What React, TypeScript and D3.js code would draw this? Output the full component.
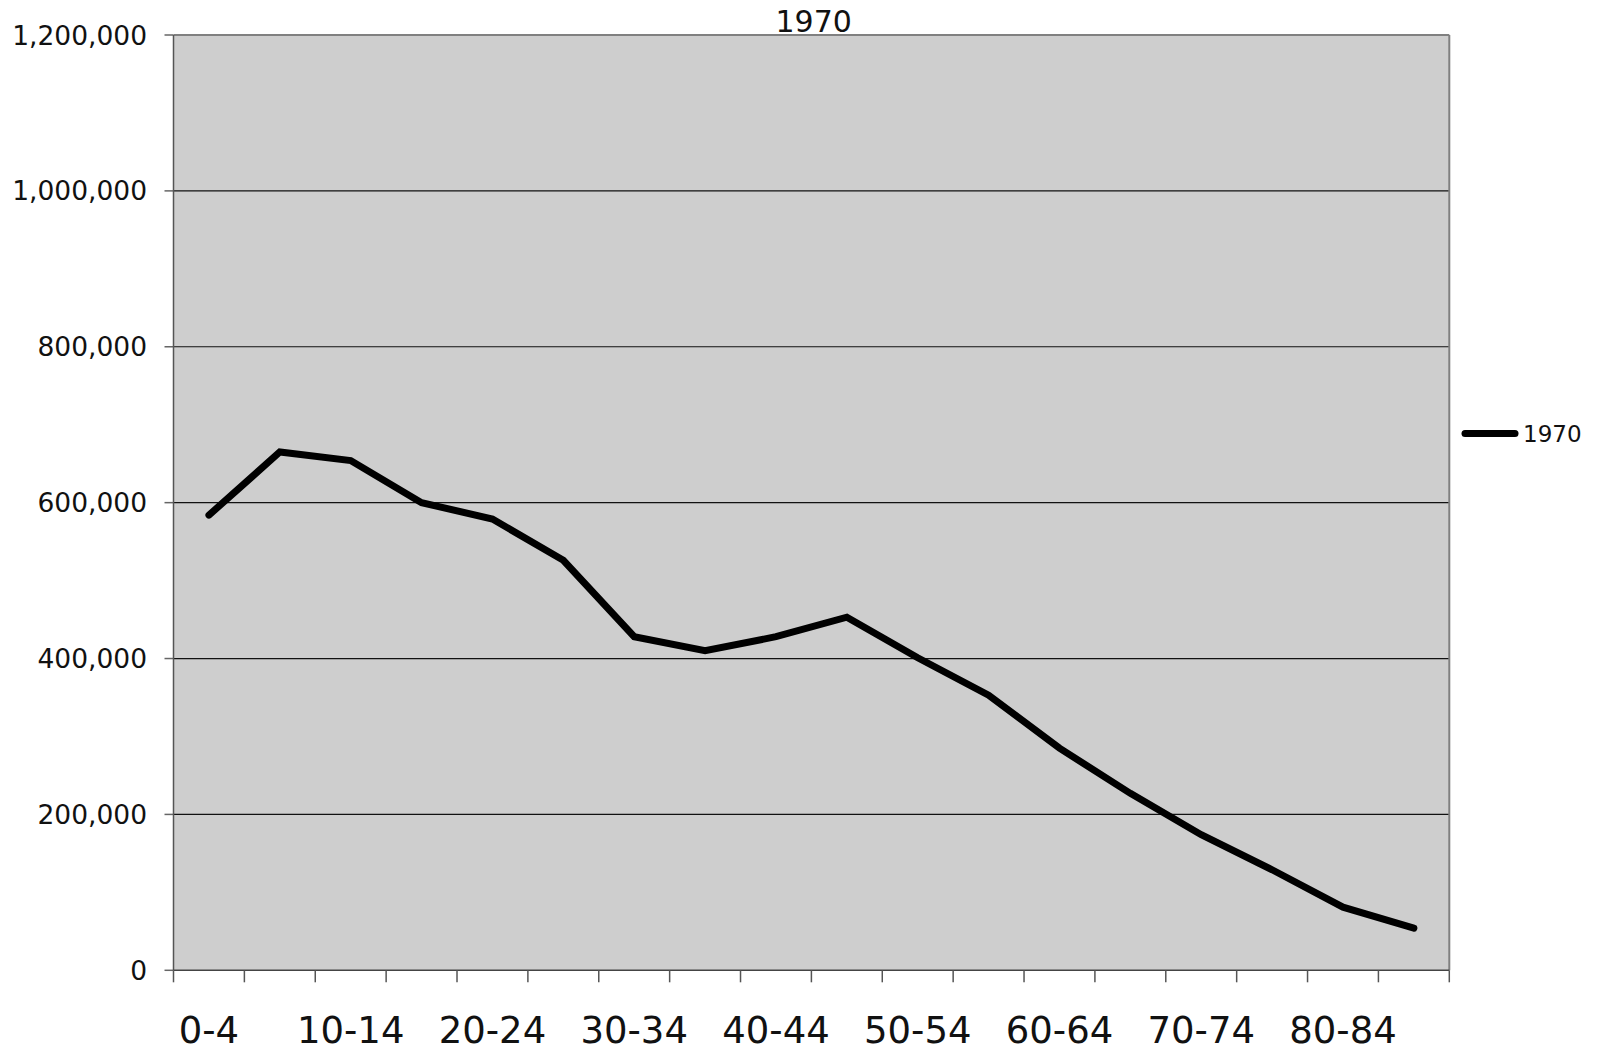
import React from "react";
import * as d3 from "d3";

const categories = ["0-4","5-9","10-14","15-19","20-24","25-29","30-34","35-39","40-44","45-49","50-54","55-59","60-64","65-69","70-74","75-79","80-84","85+"];
const values1970 = [584000, 665000, 654000, 600000, 579000, 526000, 428000, 410000, 428000, 453000, 401000, 353000, 285000, 227000, 174000, 129000, 81000, 54000];
const yTicks = [0, 200000, 400000, 600000, 800000, 1000000, 1200000];
const seriesName = "1970";
const title = "1970";

const W = 1600, H = 1049;
const L = 173.5, R = 1449.3, T = 35, B = 970.3;
const FONT = "'DejaVu Sans', Verdana, sans-serif";

export default function App() {
  const x = d3.scaleBand<string>().domain(categories).range([L, R]).padding(0);
  const y = d3.scaleLinear().domain([0, 1200000]).range([B, T]);
  const fmt = d3.format(",");
  const line = d3.line<number>()
    .x((_, i) => (x(categories[i]) as number) + x.bandwidth() / 2)
    .y((d) => y(d));
  const boundaries = categories.map((c) => x(c) as number).concat([R]);

  return (
    <svg width={W} height={H} style={{ position: "absolute", left: 0, top: 0, background: "#fff" }} fontFamily={FONT}>
      <rect x={L} y={T} width={R - L} height={B - T} fill="#cecece" />
      {yTicks.map((t) => (
        <g key={t}>
          {t > 0 && t < 1200000 && (
            <line x1={L} x2={R} y1={y(t)} y2={y(t)} stroke="#111" strokeWidth={1.2} />
          )}
          <line x1={L - 9} x2={L} y1={y(t)} y2={y(t)} stroke="#666" strokeWidth={1.5} />
          <text x={147} y={y(t)} dy="0.36em" textAnchor="end" fontSize={26.5} fill="#111">{fmt(t)}</text>
        </g>
      ))}
      {/* plot border top/right */}
      <line x1={L} x2={R} y1={T} y2={T} stroke="#808080" strokeWidth={2} />
      <line x1={R} x2={R} y1={T} y2={B} stroke="#808080" strokeWidth={2} />
      {/* axes */}
      <line x1={L} x2={L} y1={T} y2={B} stroke="#555" strokeWidth={1.5} />
      <line x1={L} x2={R} y1={B} y2={B} stroke="#444" strokeWidth={1.5} />
      {boundaries.map((b, i) => (
        <line key={i} x1={b} x2={b} y1={B} y2={B + 12} stroke="#555" strokeWidth={1.5} />
      ))}
      {categories.map((c, i) =>
        i % 2 === 0 ? (
          <text key={c} x={(x(c) as number) + x.bandwidth() / 2} y={1043} textAnchor="middle" fontSize={37} fill="#111">{c}</text>
        ) : null
      )}
      <path d={line(values1970) || ""} fill="none" stroke="#000" strokeWidth={7} strokeLinejoin="miter" strokeLinecap="round" />
      <text x={813.7} y={32} textAnchor="middle" fontSize={30} fill="#111">{title}</text>
      <line x1={1465} x2={1515} y1={433.5} y2={433.5} stroke="#000" strokeWidth={7} strokeLinecap="round" />
      <text x={1523} y={442} fontSize={23} fill="#111">{seriesName}</text>
    </svg>
  );
}
